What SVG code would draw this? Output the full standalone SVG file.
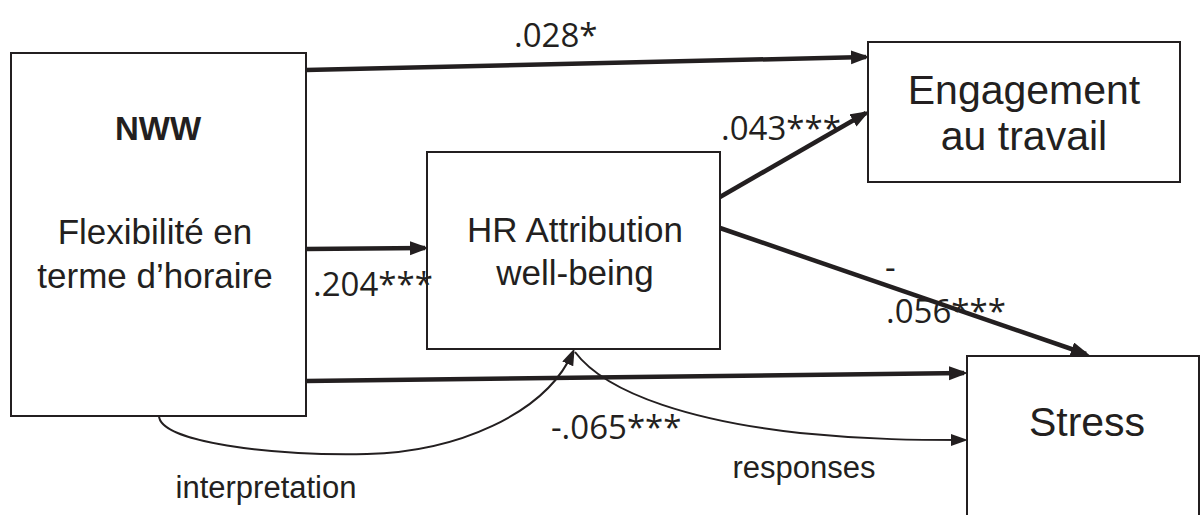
<svg xmlns="http://www.w3.org/2000/svg" width="1201" height="515" viewBox="0 0 1201 515">
  <style>
    .box { fill: #ffffff; stroke: #231f20; stroke-width: 2; }
    .lbl { font-family: "Liberation Sans", Arial, sans-serif; fill: #231f20; text-anchor: middle; }
    .coef { font-family: "Open Sans", "Liberation Sans", sans-serif; font-size: 33px; fill: #231f20; }
    .thick { fill: none; stroke: #231f20; stroke-width: 4.5; marker-end: url(#headBig); }
    .thin { fill: none; stroke: #231f20; stroke-width: 2; marker-end: url(#headSmall); }
  </style>
  <defs>
    <marker id="headBig" markerUnits="userSpaceOnUse" markerWidth="20" markerHeight="16" refX="15" refY="7" orient="auto">
      <path d="M0,0 L19,7 L0,14 z" fill="#231f20"/>
    </marker>
    <marker id="headSmall" markerUnits="userSpaceOnUse" markerWidth="18" markerHeight="14" refX="13" refY="6" orient="auto">
      <path d="M0,0 L17,6 L0,12 z" fill="#231f20"/>
    </marker>
  </defs>

  <rect width="1201" height="515" fill="#ffffff"/>

  <!-- connectors -->
  <g id="connectors">
    <path class="thick" d="M306,70 L866,57"/>
    <path class="thick" d="M306,249 L425,248"/>
    <path class="thick" d="M720,197 L866,113"/>
    <path class="thick" d="M720,228 L1086,354"/>
    <path class="thick" d="M306,381 L964,373"/>
    <path class="thin" d="M159,416 C160,442 270,456 367,454 C455,452 545,415 573,352"/>
    <path class="thin" d="M575,352 C608,396 700,422 800,433 C870,440 920,440 964,440"/>
  </g>

  <!-- nodes -->
  <g id="nww">
    <rect class="box" x="11" y="53" width="295" height="363"/>
    <text class="lbl" x="158" y="140" font-size="33" font-weight="bold">NWW</text>
    <text class="lbl" x="155" y="244" font-size="35">Flexibilité en</text>
    <text class="lbl" x="155" y="288" font-size="35">terme d’horaire</text>
  </g>
  <g id="hr">
    <rect class="box" x="427" y="152" width="293" height="197"/>
    <text class="lbl" x="575" y="242" font-size="35">HR Attribution</text>
    <text class="lbl" x="575" y="285" font-size="35">well-being</text>
  </g>
  <g id="engagement">
    <rect class="box" x="868" y="42" width="312" height="140"/>
    <text class="lbl" x="1024" y="104" font-size="41">Engagement</text>
    <text class="lbl" x="1024" y="150" font-size="41">au travail</text>
  </g>
  <g id="stress">
    <rect class="box" x="967" y="356" width="232" height="170"/>
    <text class="lbl" x="1087" y="436" font-size="41">Stress</text>
  </g>

  <!-- path coefficients and labels -->
  <g id="labels">
    <text class="coef" x="514" y="47">.028*</text>
    <text class="coef" x="721" y="140">.043***</text>
    <text class="coef" x="313" y="296">.204***</text>
    <text class="coef" x="885" y="279">-</text>
    <text class="coef" x="886" y="323">.056***</text>
    <text class="coef" x="551" y="439">-.065***</text>
    <text class="lbl" x="266" y="498" font-size="31">interpretation</text>
    <text class="lbl" x="804" y="478" font-size="31">responses</text>
  </g>
</svg>
